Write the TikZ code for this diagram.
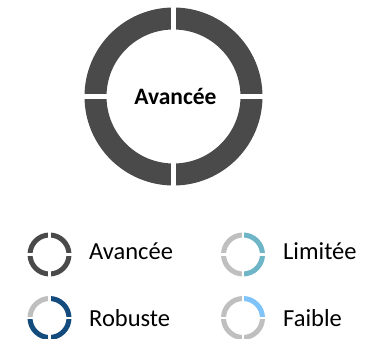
\documentclass[tikz,border=0pt]{standalone}
\usepackage{fontspec}
\setmainfont{Carlito}
\definecolor{avgray}{HTML}{4A4A4A}
\definecolor{offgray}{HTML}{BFBFBF}
\definecolor{limteal}{HTML}{6DB5C7}
\definecolor{robblue}{HTML}{144B7D}
\definecolor{faiblue}{HTML}{7EC4FA}
% ring of four quadrants: centre, mid radius, width, gap, colours (tr, br, bl, tl)
\newcommand{\quadring}[8]{%
  \draw[line width=#3,#5] (#1) ++(0:#2) arc[start angle=0,end angle=-90,radius=#2];
  \draw[line width=#3,#6] (#1) ++(0:#2) arc[start angle=0,end angle=90,radius=#2];
  \draw[line width=#3,#7] (#1) ++(90:#2) arc[start angle=90,end angle=180,radius=#2];
  \draw[line width=#3,#8] (#1) ++(180:#2) arc[start angle=180,end angle=270,radius=#2];
  \draw[white,line width=#4] (#1) ++(-#2-#3,0) -- ++(2*#2+2*#3,0);
  \draw[white,line width=#4] (#1) ++(0,-#2-#3) -- ++(0,2*#2+2*#3);
}
\tikzset{
  every picture/.style={x=1pt,y=-1pt},
  title/.style={font=\bfseries\fontsize{23.5}{28}\selectfont,inner sep=0pt,anchor=base},
  legend/.style={font=\fontsize{24.5}{29}\selectfont,inner sep=0pt,anchor=base west},
}
\begin{document}
\begin{tikzpicture}
\useasboundingbox[fill=white] (0,0) rectangle (384,339);
\coordinate (big) at (173.5,96.5);
\coordinate (kavancee) at (49.5,254.5);
\coordinate (klimitee) at (243,254.5);
\coordinate (krobuste) at (49.5,318);
\coordinate (kfaible) at (243,318);
\quadring{big}{78}{22pt}{5.5pt}{avgray}{avgray}{avgray}{avgray}
\quadring{kavancee}{19.5}{5pt}{2.5pt}{avgray}{avgray}{avgray}{avgray}
\quadring{klimitee}{19.5}{5pt}{2.5pt}{limteal}{limteal}{offgray}{offgray}
\quadring{krobuste}{19.5}{5pt}{2.5pt}{robblue}{robblue}{robblue}{offgray}
\quadring{kfaible}{19.5}{5pt}{2.5pt}{faiblue}{offgray}{offgray}{offgray}
\node[title] (centre) at (175.5,104.3) {Avancée};
\node[legend] (lavancee) at (89,260) {Avancée};
\node[legend] (llimitee) at (283,260) {Limitée};
\node[legend] (lrobuste) at (89,326.5) {Robuste};
\node[legend] (lfaible) at (283,326.5) {Faible};
\end{tikzpicture}
\end{document}
